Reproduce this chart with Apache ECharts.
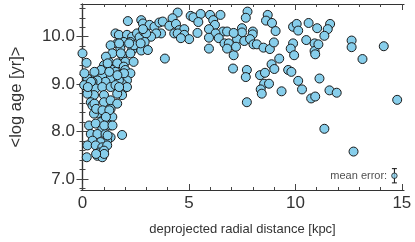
<!DOCTYPE html>
<html><head><meta charset="utf-8">
<script src="https://cdn.jsdelivr.net/npm/echarts@6/dist/echarts.min.js"></script>
<style>html,body{margin:0;padding:0;background:#fff}#c{width:415px;height:242px}</style>
</head><body><div id="c"></div>
<script>
// deprojected radial distance [kpc] and <log age [yr]> of each region
const distanceKpc = [
 2.13,1.55,1.71,2.09,2.33,2.56,2.68,2.25,1.94,1.63,1.32,1.78,2.33,2.76,1.40,1.86,2.25,2.01,2.40,1.24,1.01,1.63,1.94,1.40,1.08,0.78,0.62,0.93,1.55,1.78,2.01,2.25,2.09,1.86,1.71,1.32,1.08,0.70,0.47,0.23,0.08,0.39,0.62,0.93,1.32,1.55,1.94,2.09,1.86,1.63,0.54,0.23,1.01,0.00,0.19,0.09,
 0.39,0.47,0.78,0.54,1.01,1.32,1.63,1.32,1.24,1.40,1.01,0.85,0.31,0.62,1.16,1.32,0.93,0.39,0.70,1.08,1.86,1.32,1.16,0.85,0.47,0.23,0.62,0.93,1.16,0.78,1.01,0.70,0.93,0.20,
 2.88,2.42,2.19,1.72,1.80,1.10,1.18,0.87,1.26,1.95,1.64,0.56,0.40,0.25,1.72,0.56,0.64,0.94,1.26,1.10,1.02,1.41,1.18,1.02,0.64,
 4.47,4.23,5.08,5.21,5.55,5.44,5.99,6.14,6.48,6.22,5.94,6.60,6.79,6.25,5.94,6.40,6.67,6.87,6.79,7.10,5.94,7.07,2.76,2.84,3.15,3.38,3.61,3.77,4.08,4.39,4.54,4.78,4.31,4.47,4.78,5.01,4.62,5.40,3.69,3.46,3.22,2.99,2.92,2.73,3.07,3.87,2.84,
 7.75,7.67,8.70,8.62,8.90,9.07,9.89,10.06,10.13,10.62,11.02,7.49,7.49,8.00,7.99,7.26,7.60,7.87,8.03,8.19,8.50,8.80,8.99,7.21,7.10,9.89,9.78,9.94,10.51,10.90,10.90,10.93,11.08,9.24,7.72,7.67,8.34,8.57,8.88,9.01,9.66,9.81,10.13,8.53,8.76,8.37,8.42,9.35,10.31,10.74,10.93,11.13,7.72,
 11.63,11.52,11.36,12.64,12.64,13.15,14.15,11.60,11.94,14.78,11.36,12.73
];
const logAge = [
 10.33,10.07,10.04,10.04,10.00,10.07,9.99,9.89,9.89,9.86,9.82,9.75,9.72,9.71,9.65,9.61,9.65,9.47,9.47,9.47,9.40,9.44,9.37,9.30,9.30,9.26,9.19,9.19,9.26,9.19,9.30,9.23,9.08,9.01,9.08,9.12,9.05,9.08,9.05,9.12,8.98,8.94,8.91,8.94,8.94,8.98,8.91,8.94,8.77,8.80,8.77,8.80,8.77,9.65,9.45,9.23,
 8.62,8.55,8.38,8.38,8.62,8.66,8.59,8.48,8.34,8.31,8.27,8.20,8.13,8.17,8.17,8.13,8.06,7.95,7.95,7.95,7.93,7.88,7.81,7.78,7.81,7.71,7.71,7.67,7.71,7.56,7.60,7.49,7.46,7.46,
 10.11,9.82,9.86,9.86,9.65,9.58,9.44,9.30,9.26,9.23,9.19,9.26,9.05,8.94,8.94,8.59,8.48,8.45,8.45,8.31,8.13,8.13,7.92,7.53,7.53,
 10.51,10.39,10.44,10.41,10.48,10.31,10.46,10.35,10.46,10.25,10.16,10.11,10.11,10.07,9.98,9.97,9.86,9.86,9.75,9.61,9.75,9.33,10.35,10.28,10.25,10.21,10.30,10.32,10.23,10.27,10.14,10.16,10.07,10.07,10.04,9.95,9.97,10.08,10.07,10.07,10.00,10.07,9.89,9.86,9.72,9.54,10.16,
 10.53,10.40,10.46,10.34,10.29,10.12,10.21,10.27,10.13,10.29,10.18,10.18,10.09,10.11,10.05,9.95,9.91,9.95,9.84,9.84,9.77,9.74,9.88,9.79,10.08,9.86,9.75,9.61,9.93,9.86,9.70,9.63,9.84,9.54,9.30,9.15,9.19,9.24,9.42,9.32,9.30,9.26,9.07,9.01,9.01,8.89,8.80,8.85,8.89,8.70,8.74,9.12,8.62,
 10.27,10.16,10.02,9.92,9.78,9.53,9.80,8.87,8.82,8.67,8.06,7.58
];
// mean error marker: [x, y, yerr]
const meanError = [14.65, 7.07, 0.15];
const meanErrorText = 'mean error:';

const xMajorTicks = [0, 5, 10, 15];
const xMinorTicks = [0,1,2,3,4,5,6,7,8,9,10,11,12,13,14,15];
const yMajorTicks = [7, 8, 9, 10];
const yMinorTicks = [6.8,7.0,7.2,7.4,7.6,7.8,8.0,8.2,8.4,8.6,8.8,9.0,9.2,9.4,9.6,9.8,10.0,10.2,10.4,10.6];
const xRange = [-0.07, 15.1];
const yRange = [6.77, 10.69];

const FONT = 'Liberation Sans';
const points = distanceKpc.map((d, i) => [d, logAge[i]]);

function xAx(pos, ticks, len, showLine, label) {
  return {
    type: 'value', position: pos, min: xRange[0], max: xRange[1],
    splitLine: {show: false},
    axisLine: {show: showLine, lineStyle: {color: '#333', width: 1.2}},
    axisTick: {show: true, inside: true, length: len, customValues: ticks, lineStyle: {color: '#444', width: 1}},
    axisLabel: label ? {show: true, customValues: ticks, fontFamily: FONT, fontSize: 17, color: '#333', margin: 5}
                     : {show: false},
    ...(label ? {name: 'deprojected radial distance [kpc]', nameLocation: 'middle', nameGap: 33,
                 nameTextStyle: {fontFamily: FONT, fontSize: 13, color: '#333'}} : {})
  };
}
function yAx(pos, ticks, len, showLine, label) {
  return {
    type: 'value', position: pos, min: yRange[0], max: yRange[1],
    splitLine: {show: false},
    axisLine: {show: showLine, lineStyle: {color: '#333', width: 1.2}},
    axisTick: {show: true, inside: true, length: len, customValues: ticks, lineStyle: {color: '#444', width: 1}},
    axisLabel: label ? {show: true, customValues: ticks, fontFamily: FONT, fontSize: 17, color: '#333', margin: 6,
                        formatter: v => Number(v).toFixed(1)}
                     : {show: false},
    ...(label ? {name: '<log age [yr]>', nameLocation: 'middle', nameGap: 56,
                 nameTextStyle: {fontFamily: FONT, fontSize: 16.5, color: '#333'}} : {})
  };
}

const chart = echarts.init(document.getElementById('c'), null, {renderer: 'canvas'});
chart.setOption({
  animation: false,
  backgroundColor: '#fff',
  grid: {left: 78, right: 11, top: 4, bottom: 52, containLabel: false},
  xAxis: [
    xAx('bottom', xMajorTicks, 6, true, true),
    xAx('bottom', xMinorTicks, 3, false, false),
    xAx('top', xMajorTicks, 6, true, false),
    xAx('top', xMinorTicks, 3, false, false)
  ],
  yAxis: [
    yAx('left', yMajorTicks, 6, true, true),
    yAx('left', yMinorTicks, 3, false, false),
    yAx('right', yMajorTicks, 6, true, false),
    yAx('right', yMinorTicks, 3, false, false)
  ],
  series: [
    {
      type: 'scatter', xAxisIndex: 0, yAxisIndex: 0, data: points,
      symbol: 'circle', symbolSize: 9, clip: false,
      itemStyle: {color: '#87ceeb', borderColor: '#1a1a1a', borderWidth: 1, opacity: 1},
      z: 2
    },
    {
      type: 'custom', xAxisIndex: 0, yAxisIndex: 0, data: [meanError], z: 3,
      renderItem: (params, api) => {
        const x = api.value(0), y = api.value(1), e = api.value(2);
        const t = api.coord([x, y + e]), b = api.coord([x, y - e]);
        const cw = 2.5, st = {stroke: '#111', lineWidth: 1};
        return {type: 'group', children: [
          {type: 'line', shape: {x1: t[0], y1: t[1], x2: b[0], y2: b[1]}, style: st},
          {type: 'line', shape: {x1: t[0] - cw, y1: t[1], x2: t[0] + cw, y2: t[1]}, style: st},
          {type: 'line', shape: {x1: b[0] - cw, y1: b[1], x2: b[0] + cw, y2: b[1]}, style: st}
        ]};
      }
    },
    {
      type: 'scatter', xAxisIndex: 0, yAxisIndex: 0, data: [[meanError[0], meanError[1]]],
      symbol: 'circle', symbolSize: 5.5, z: 4,
      itemStyle: {color: '#87ceeb', borderColor: '#1a1a1a', borderWidth: 1},
      label: {show: true, position: 'left', distance: 4, formatter: meanErrorText,
              fontFamily: FONT, fontSize: 11, color: '#222'}
    }
  ]
});
</script>
</body></html>
